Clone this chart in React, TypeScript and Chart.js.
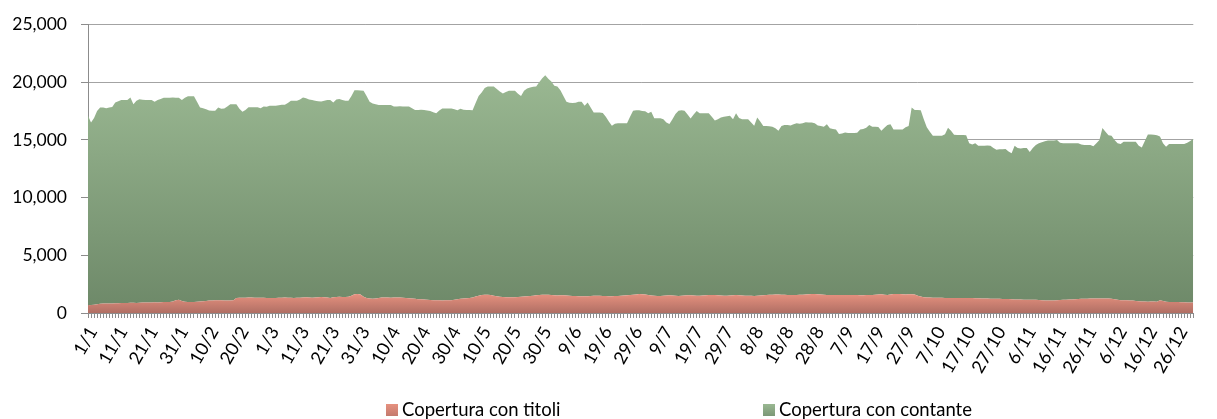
import { useEffect, useRef } from 'react';
import { Chart, registerables } from 'chart.js';

Chart.register(...registerables);

// Leap year: days per month (categories are daily, 1/1 .. 31/12)
const daysInMonth = [31, 29, 31, 30, 31, 30, 31, 31, 30, 31, 30, 31];
const categories: string[] = [];
daysInMonth.forEach((n, m) => {
  for (let d = 1; d <= n; d++) categories.push(`${d}/${m + 1}`);
});
const labelEvery = 10;

const seriesNames = ['Copertura con titoli', 'Copertura con contante'];
const yTickValues = [0, 5000, 10000, 15000, 20000, 25000];

// Copertura con titoli (lower band)
const titoli = [
  680, 700, 720, 750, 800, 820, 830, 830, 820, 840,
  850, 860, 870, 860, 880, 880, 870, 890, 900, 900,
  910, 920, 930, 920, 940, 950, 960, 960, 1000, 1100,
  1150, 1050, 980, 960, 960, 960, 980, 1000, 1020, 1050,
  1080, 1090, 1100, 1100, 1100, 1090, 1090, 1090, 1100, 1300,
  1320, 1330, 1330, 1340, 1340, 1330, 1330, 1320, 1320, 1310,
  1300, 1300, 1310, 1320, 1330, 1340, 1330, 1320, 1310, 1320,
  1330, 1350, 1360, 1340, 1330, 1350, 1370, 1380, 1360, 1340,
  1300, 1360, 1380, 1400, 1390, 1380, 1400, 1500, 1620, 1640,
  1600, 1400, 1300, 1250, 1240, 1250, 1300, 1350, 1350, 1340,
  1330, 1340, 1350, 1340, 1320, 1300, 1280, 1250, 1240, 1200,
  1200, 1180, 1150, 1120, 1100, 1100, 1100, 1090, 1100, 1100,
  1110, 1150, 1200, 1240, 1250, 1280, 1300, 1350, 1420, 1500,
  1550, 1580, 1590, 1560, 1500, 1450, 1400, 1380, 1360, 1360,
  1370, 1370, 1380, 1400, 1420, 1450, 1480, 1500, 1540, 1560,
  1580, 1590, 1580, 1560, 1540, 1520, 1530, 1540, 1520, 1500,
  1480, 1480, 1460, 1450, 1450, 1460, 1480, 1500, 1500, 1490,
  1480, 1470, 1460, 1460, 1470, 1480, 1500, 1520, 1540, 1560,
  1580, 1600, 1640, 1630, 1600, 1560, 1520, 1500, 1480, 1480,
  1500, 1520, 1530, 1510, 1500, 1480, 1500, 1520, 1540, 1540,
  1520, 1500, 1500, 1520, 1540, 1560, 1570, 1550, 1540, 1520,
  1500, 1500, 1520, 1540, 1560, 1540, 1520, 1500, 1500, 1490,
  1480, 1500, 1520, 1540, 1560, 1580, 1590, 1600, 1600, 1590,
  1580, 1570, 1560, 1560, 1570, 1580, 1590, 1600, 1620, 1640,
  1640, 1620, 1600, 1580, 1570, 1560, 1560, 1570, 1560, 1550,
  1550, 1560, 1570, 1560, 1550, 1540, 1540, 1550, 1560, 1560,
  1580, 1600, 1620, 1580, 1560, 1600, 1640, 1650, 1640, 1620,
  1600, 1620, 1620, 1600, 1500, 1420, 1360, 1350, 1340, 1330,
  1330, 1320, 1320, 1310, 1310, 1300, 1300, 1300, 1290, 1290,
  1300, 1300, 1290, 1280, 1270, 1260, 1250, 1250, 1240, 1240,
  1230, 1230, 1220, 1220, 1220, 1200, 1180, 1160, 1160, 1150,
  1140, 1150, 1140, 1140, 1130, 1100, 1090, 1080, 1080, 1090,
  1100, 1120, 1140, 1150, 1160, 1180, 1200, 1220, 1230, 1240,
  1240, 1250, 1250, 1260, 1260, 1260, 1250, 1250, 1240, 1200,
  1150, 1100, 1100, 1100, 1090, 1080, 1050, 1020, 1000, 990,
  980, 990, 1000, 980, 1100, 1050, 980, 960, 950, 950,
  950, 940, 930, 920, 920, 920,
];

// Total coverage (top edge of the stacked areas)
const totale = [
  17100, 16500, 16900, 17500, 17800, 17800, 17750, 17800, 17850, 18250,
  18350, 18450, 18450, 18450, 18680, 18100, 18400, 18530, 18480, 18450,
  18450, 18450, 18300, 18450, 18550, 18650, 18650, 18650, 18680, 18650,
  18650, 18450, 18650, 18790, 18790, 18790, 18300, 17800, 17750, 17650,
  17550, 17530, 17530, 17800, 17700, 17720, 17900, 18100, 18100, 18100,
  17700, 17440, 17600, 17820, 17820, 17820, 17820, 17750, 17900, 17880,
  17950, 17970, 17970, 18000, 18050, 18050, 18200, 18390, 18390, 18390,
  18500, 18680, 18600, 18500, 18450, 18390, 18350, 18330, 18400, 18450,
  18450, 18250, 18500, 18550, 18450, 18400, 18400, 18800, 19300, 19300,
  19280, 19250, 18800, 18300, 18150, 18100, 18020, 18020, 18020, 18020,
  18020, 17900, 17900, 17920, 17900, 17900, 17900, 17750, 17600, 17600,
  17620, 17600, 17550, 17500, 17400, 17300, 17550, 17730, 17730, 17730,
  17730, 17650, 17580, 17700, 17620, 17600, 17600, 17580, 18200, 18800,
  19100, 19500, 19630, 19630, 19630, 19400, 19200, 19020, 19150, 19250,
  19250, 19250, 19000, 18800, 19250, 19450, 19550, 19600, 19620, 20000,
  20350, 20600, 20300, 20050, 19700, 19620, 19300, 18800, 18300, 18230,
  18200, 18230, 18300, 18300, 17950, 18250, 17800, 17380, 17380, 17380,
  17330, 17000, 16600, 16235, 16400, 16450, 16450, 16450, 16450, 17000,
  17530, 17560, 17580, 17500, 17480, 17300, 17450, 16870, 16870, 16870,
  16800, 16500, 16380, 16800, 17250, 17530, 17560, 17530, 17200, 16850,
  17200, 17500, 17320, 17320, 17320, 17320, 17000, 16680, 16800, 16940,
  17000, 17050, 17100, 16800, 17300, 16900, 16800, 16800, 16800, 16500,
  16230, 16950, 16600, 16200, 16200, 16180, 16150, 16000, 15800, 16200,
  16300, 16300, 16250, 16350, 16450, 16400, 16450, 16520, 16500, 16500,
  16450, 16250, 16200, 16150, 16350, 16000, 15950, 15900, 15520, 15550,
  15650, 15600, 15600, 15600, 15620, 15900, 15950, 16050, 16300, 16150,
  16150, 16120, 15800, 16050, 16300, 16350, 15900, 15900, 15900, 15900,
  16100, 16200, 17800, 17600, 17600, 17580, 16800, 16090, 15700, 15370,
  15350, 15350, 15350, 15500, 16050, 15800, 15450, 15430, 15430, 15430,
  15400, 14710, 14600, 14710, 14500, 14500, 14500, 14520, 14500, 14300,
  14140, 14200, 14200, 14220, 14000, 13850, 14500, 14300, 14250, 14300,
  14300, 13950, 14300, 14550, 14700, 14800, 14890, 14950, 14950, 14950,
  15000, 14750, 14720, 14720, 14720, 14720, 14720, 14720, 14600, 14550,
  14550, 14550, 14450, 14700, 15000, 16030, 15700, 15400, 15350, 15000,
  14700, 14650, 14850, 14850, 14850, 14850, 14850, 14500, 14350, 14900,
  15460, 15460, 15450, 15400, 15300, 14700, 14400, 14650, 14650, 14650,
  14650, 14650, 14650, 14750, 14900, 15090,
];

// Copertura con contante = stacked on top of titoli
const contante = totale.map((t, i) => t - titoli[i]);

const FONT = 'Lato, "Open Sans", sans-serif';

export default function App() {
  const canvasRef = useRef<HTMLCanvasElement>(null);

  useEffect(() => {
    const canvas = canvasRef.current;
    if (!canvas) return;

    const makeGrad = (ctx: any, topVal: number, c1: string, c2: string, fallback: string) => {
      const chart = ctx.chart;
      const { chartArea, scales } = chart;
      if (!chartArea || !scales || !scales.y) return fallback;
      const top = scales.y.getPixelForValue(topVal);
      const g = chart.ctx.createLinearGradient(0, top, 0, chartArea.bottom);
      g.addColorStop(0, c1);
      g.addColorStop(1, c2);
      return g;
    };

    const chart = new Chart(canvas, {
      type: 'line',
      data: {
        labels: categories,
        datasets: [
          {
            label: seriesNames[0],
            data: titoli,
            fill: 'origin',
            backgroundColor: (ctx: any) => makeGrad(ctx, 1650, '#e6917f', '#b06f64', '#d88474'),
            borderWidth: 0,
            borderColor: 'rgba(0,0,0,0)',
            pointRadius: 0,
            tension: 0,
            stack: 's',
          },
          {
            label: seriesNames[1],
            data: contante,
            fill: '-1',
            backgroundColor: (ctx: any) => makeGrad(ctx, 20700, '#9ab892', '#6d8868', '#85a27c'),
            borderWidth: 0,
            borderColor: 'rgba(0,0,0,0)',
            pointRadius: 0,
            tension: 0,
            stack: 's',
          },
        ],
      },
      options: {
        animation: false,
        responsive: false,
        maintainAspectRatio: false,
        layout: { padding: { top: 24, right: 1, left: 0, bottom: 0 } },
        plugins: {
          legend: { display: false },
          tooltip: { enabled: false },
          title: { display: false },
        },
        elements: { line: { borderWidth: 0 } },
        scales: {
          x: {
            type: 'category',
            offset: false,
            afterFit: (s: any) => {
              s.height = 106;
            },
            grid: {
              display: true,
              drawOnChartArea: false,
              drawTicks: true,
              tickLength: 5,
              tickColor: '#8c8c8c',
              color: '#8c8c8c',
            },
            border: { display: true, color: '#8c8c8c', width: 1 },
            ticks: {
              autoSkip: false,
              maxRotation: 60,
              minRotation: 60,
              padding: 5,
              labelOffset: 5,
              color: '#000',
              font: { family: FONT, size: 18 },
              callback: (_v: any, i: number) => (i % labelEvery === 0 ? categories[i] : ''),
            },
          },
          y: {
            stacked: true,
            min: 0,
            max: 25000,
            afterFit: (s: any) => {
              s.width = 88;
            },
            afterBuildTicks: (s: any) => {
              s.ticks = yTickValues.map((v) => ({ value: v }));
            },
            grid: {
              color: '#a3a3a3',
              lineWidth: 1,
              drawTicks: true,
              tickLength: 7,
              tickColor: '#8c8c8c',
            },
            border: { display: true, color: '#8c8c8c', width: 1 },
            ticks: {
              padding: 14,
              color: '#000',
              font: { family: FONT, size: 17.5 },
              callback: (v: any) => Number(v).toLocaleString('en-US'),
            },
          },
        },
      },
    });

    return () => chart.destroy();
  }, []);

  const legendItem = (left: number, color: string, text: string) => (
    <div
      style={{
        position: 'absolute',
        left,
        top: 400,
        display: 'flex',
        alignItems: 'center',
        fontFamily: FONT,
        fontSize: 18.5,
        color: '#000',
        whiteSpace: 'nowrap',
        lineHeight: '19px',
      }}
    >
      <span style={{ display: 'inline-block', width: 12, height: 12, background: color, marginRight: 4 }} />
      <span>{text}</span>
    </div>
  );

  return (
    <div style={{ position: 'fixed', left: 0, top: 0, width: 1217, height: 419, background: '#fff', overflow: 'hidden' }}>
      <canvas ref={canvasRef} width={1217} height={419} style={{ display: 'block', width: 1217, height: 419 }} />
      {legendItem(386, 'linear-gradient(#e6917f, #c47a6d)', seriesNames[0])}
      {legendItem(763, 'linear-gradient(#9ab892, #7c9877)', seriesNames[1])}
    </div>
  );
}
